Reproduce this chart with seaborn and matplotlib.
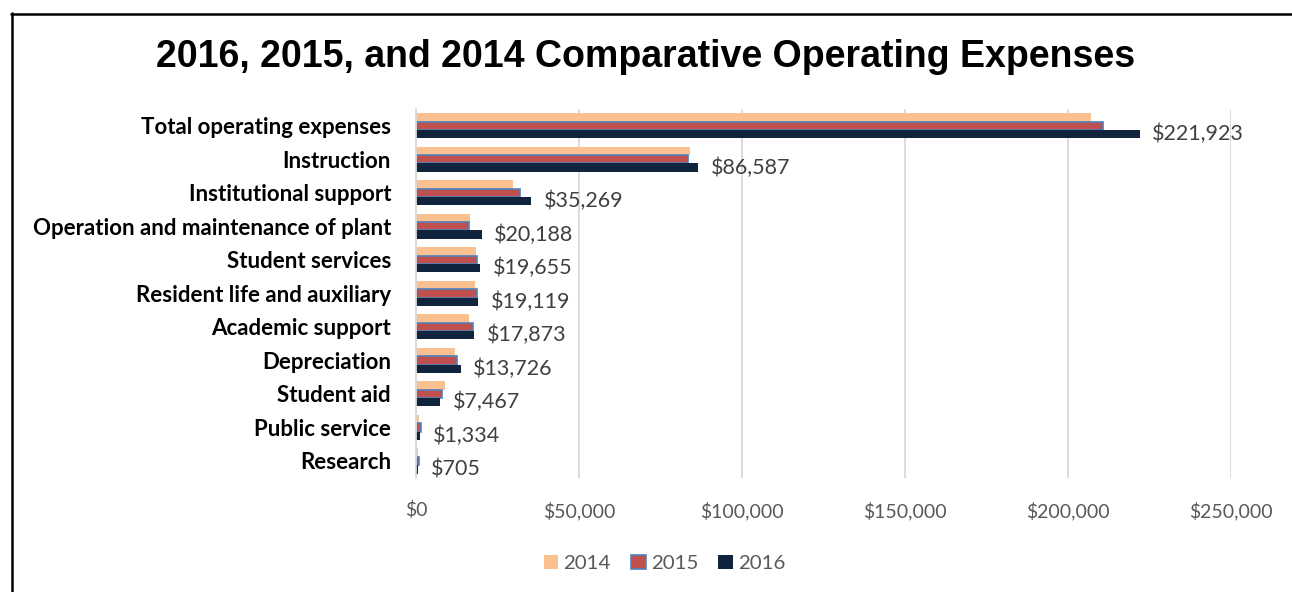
import pandas as pd
import matplotlib.pyplot as plt
import seaborn as sns
from matplotlib.lines import Line2D
from matplotlib.ticker import FuncFormatter

# Dados (milhares de dólares)
categorias = ["Total operating expenses", "Instruction", "Institutional support",
              "Operation and maintenance of plant", "Student services",
              "Resident life and auxiliary", "Academic support", "Depreciation",
              "Student aid", "Public service", "Research"]
anos = ["2014", "2015", "2016"]
v2014 = [207000, 83900, 29600, 16600, 18500, 18100, 16300, 11800, 9000, 1000, 500]
v2015 = [210700, 83500, 32000, 16100, 18700, 18700, 17600, 12500, 7900, 1500, 900]
v2016 = [221923, 86587, 35269, 20188, 19655, 19119, 17873, 13726, 7467, 1334, 705]

cores = ["#FAC090", "#C0504D", "#10243E"]

df = pd.DataFrame({
    "Categoria": categorias * 3,
    "Ano": [a for a in anos for _ in categorias],
    "Valor": v2014 + v2015 + v2016,
})

sns.set_style("white")
plt.rcParams["font.family"] = ["Lato", "DejaVu Sans"]

fig = plt.figure(figsize=(12.92, 5.92), dpi=100)
ax = fig.add_axes([0.322, 0.193, 0.631, 0.623])

sns.barplot(data=df, y="Categoria", x="Valor", hue="Ano", orient="h",
            palette=cores, order=categorias, hue_order=anos, width=0.75,
            errorbar=None, ax=ax, linewidth=0, saturation=1)

# contorno azul nas barras de 2015
for barra in ax.containers[1]:
    barra.set_edgecolor("#4F81BD")
    barra.set_linewidth(1.2)

ax.bar_label(ax.containers[2], labels=[f"${v:,.0f}" for v in v2016],
             padding=9, fontsize=15.5, color="#404040")

ax.set_xlim(0, 250000)
ax.set_xticks(range(0, 250001, 50000))
ax.xaxis.set_major_formatter(FuncFormatter(lambda x, p: f"${x:,.0f}"))
ax.tick_params(axis="x", labelsize=14, colors="#595959", length=0, pad=17)
ax.tick_params(axis="y", labelsize=16, length=0, pad=18)
for lbl in ax.get_yticklabels():
    lbl.set_fontweight("bold")
    lbl.set_color("black")
ax.set_xlabel("")
ax.set_ylabel("")
ax.grid(axis="x", color="#D9D9D9", linewidth=1.3)
ax.set_axisbelow(True)
for lado in ["top", "right", "bottom"]:
    ax.spines[lado].set_visible(False)
ax.spines["left"].set_color("#D9D9D9")
ax.spines["left"].set_linewidth(1.3)

leg = ax.legend(loc="center", bbox_to_anchor=(0.305, -0.232), ncol=3,
                frameon=False, fontsize=14.7, handlelength=0.7, handleheight=0.7,
                columnspacing=1.0, handletextpad=0.25)
for t in leg.get_texts():
    t.set_color("#595959")
leg.legend_handles[1].set_edgecolor("#4F81BD")
leg.legend_handles[1].set_linewidth(1.2)

fig.text(0.5, 0.903, "2016, 2015, and 2014 Comparative Operating Expenses",
         ha="center", va="center", fontsize=27, fontweight="bold", color="black",
         family=["Liberation Sans", "DejaVu Sans"])

# moldura (só topo e lado esquerdo aparecem no recorte)
fig.add_artist(Line2D([11 / 1292, 1], [1 - 13.5 / 592] * 2, transform=fig.transFigure,
                      color="black", linewidth=1.8))
fig.add_artist(Line2D([12 / 1292] * 2, [0, 1 - 13 / 592], transform=fig.transFigure,
                      color="black", linewidth=1.8))

plt.savefig("out.png", dpi=100)
plt.close()
